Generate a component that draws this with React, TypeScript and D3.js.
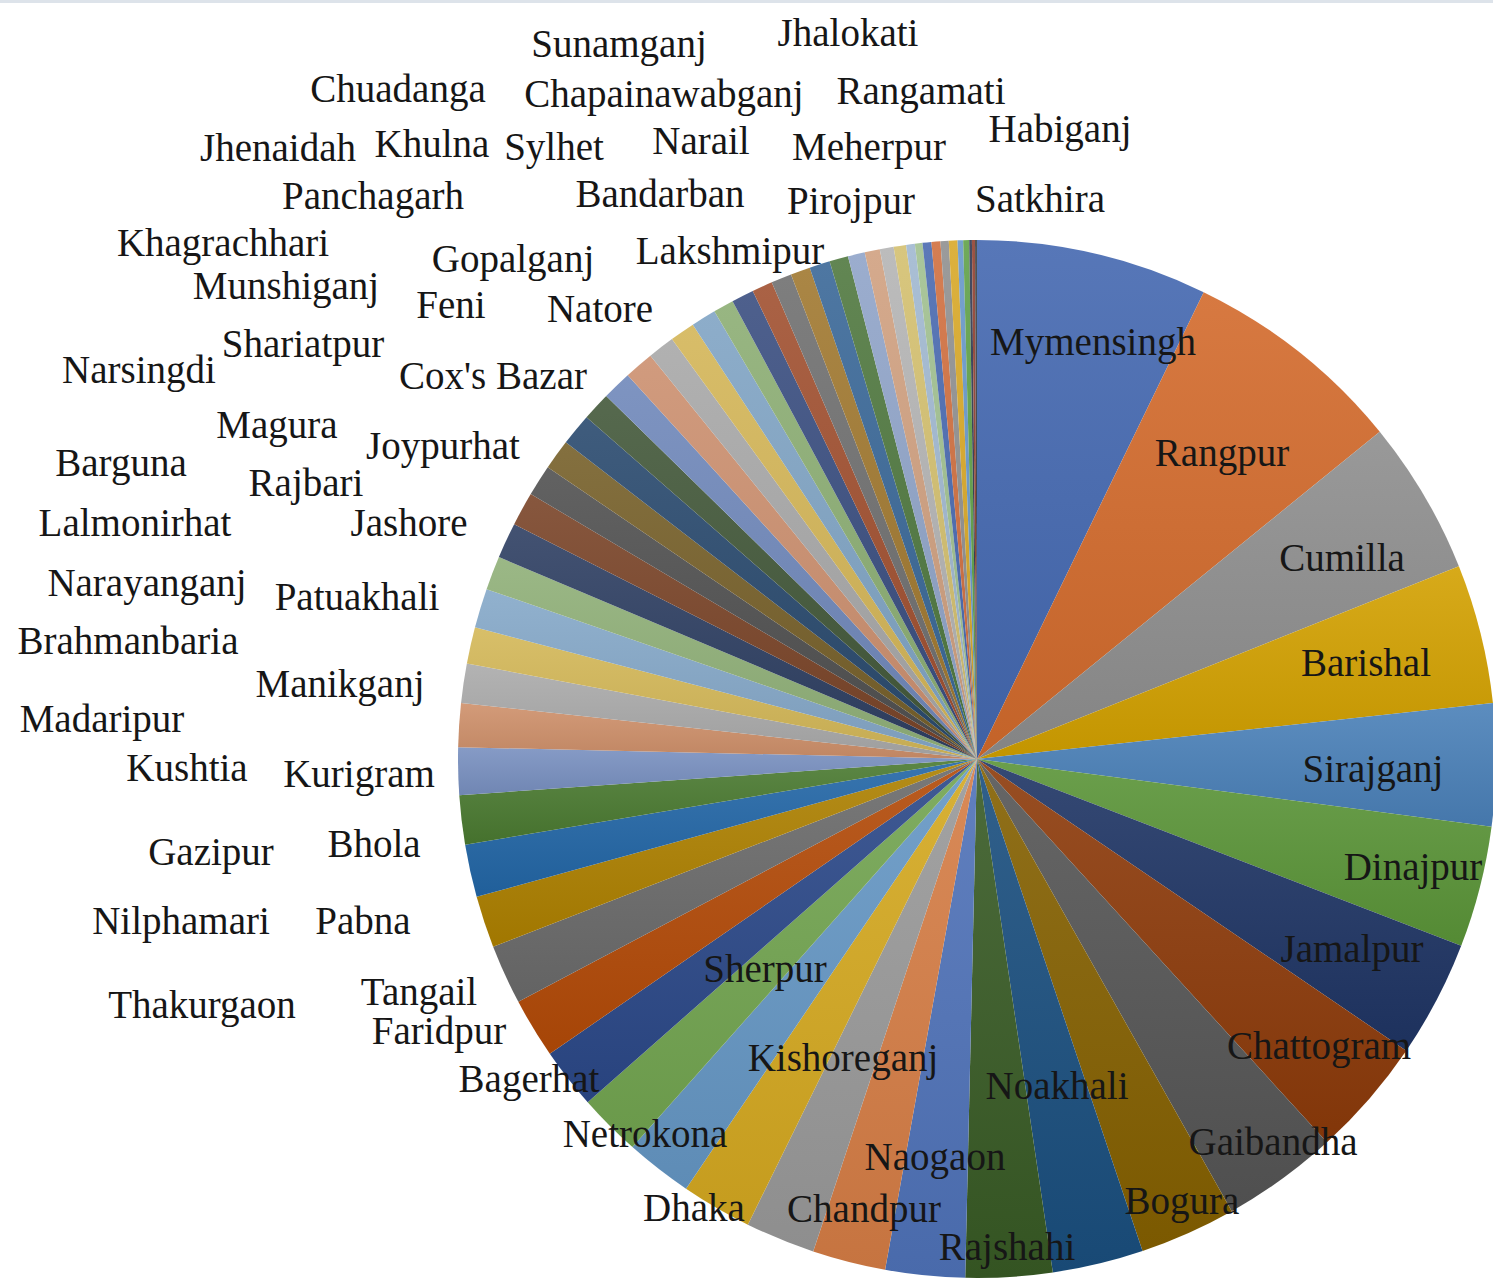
import React from 'react';
import * as d3 from 'd3';

const districts: string[] = [
  'Mymensingh', 'Rangpur', 'Cumilla', 'Barishal', 'Sirajganj', 'Dinajpur', 'Jamalpur', 'Chattogram',
  'Gaibandha', 'Bogura', 'Noakhali', 'Rajshahi', 'Naogaon', 'Chandpur', 'Kishoreganj', 'Dhaka',
  'Netrokona', 'Sherpur', 'Bagerhat', 'Faridpur', 'Tangail', 'Thakurgaon', 'Pabna', 'Nilphamari',
  'Bhola', 'Gazipur', 'Kurigram', 'Kushtia', 'Madaripur', 'Manikganj', 'Brahmanbaria', 'Narayanganj',
  'Patuakhali', 'Lalmonirhat', 'Barguna', 'Rajbari', 'Jashore', 'Narsingdi', 'Magura', 'Joypurhat',
  'Shariatpur', 'Munshiganj', 'Khagrachhari', "Cox's Bazar", 'Feni', 'Jhenaidah', 'Panchagarh', 'Gopalganj',
  'Khulna', 'Chuadanga', 'Natore', 'Sylhet', 'Bandarban', 'Sunamganj', 'Lakshmipur', 'Chapainawabganj',
  'Narail', 'Pirojpur', 'Meherpur', 'Jhalokati', 'Rangamati', 'Satkhira', 'Habiganj',
];

const shares: number[] = [
  25.9, 25.0, 17.3, 15.6, 13.7, 13.6, 13.1, 13.4,
  13.0, 10.8, 10.2, 9.7, 8.9, 8.2, 7.8, 7.9,
  7.5, 7.0, 6.8, 6.7, 6.7, 5.8, 5.9, 5.5,
  5.3, 4.9, 4.4, 4.1, 4.4, 3.8, 4.0, 3.8,
  3.5, 3.4, 3.6, 3.2, 3.3, 3.3, 3.0, 2.8,
  2.8, 2.3, 2.5, 2.3, 2.3, 2.2, 2.3, 2.1,
  1.9, 1.7, 1.55, 1.39, 0.98, 0.85, 0.99, 1.0,
  0.92, 0.97, 0.62, 0.67, 0.30, 0.34, 0.22,
];

const sliceColors: string[] = [
  '#4468b0', '#d26a2c', '#8e8e8e', '#d2a000', '#4a80b8', '#5a9438', '#1f3564', '#8c3a0a',
  '#555555', '#846000', '#1a4e7e', '#385a25', '#4f72b8', '#d57d45', '#999999', '#d4a820',
  '#6596c4', '#72a450', '#2b4888', '#b24a08', '#6a6a6a', '#ad8000', '#2266a6', '#4a7a30',
  '#7890c0', '#ce906a', '#aaaaaa', '#d4b858', '#85a8c8', '#90b078', '#2e3f62', '#7a4428',
  '#505050', '#76602a', '#2a4a6e', '#43583a', '#7088ba', '#cc9070', '#a8a8a8', '#d4b658',
  '#80a4c4', '#8cae74', '#3a4e80', '#a05030', '#707070', '#a07830', '#3a6898', '#507840',
  '#90a4c8', '#d0a080', '#b4b4b4', '#d4c070', '#a0b8d0', '#a0c090', '#4a6ab0', '#d07040',
  '#909090', '#d8a828', '#6898c8', '#60a048', '#303850', '#904030', '#404040',
];

// label centre positions (page pixels), same order as districts
const labelLayout: [number, number][] = [
  [1093, 341], [1222, 452], [1342, 557], [1366, 662], [1373, 768], [1413, 866], [1352, 948], [1319, 1045],
  [1273, 1141], [1182, 1200], [1057, 1085], [1007, 1246], [935, 1156], [864, 1208], [843, 1057], [694, 1207],
  [645, 1133], [765, 968], [529, 1078], [439, 1030], [419, 991], [202, 1004], [363, 920], [181, 920],
  [374, 843], [211, 851], [359, 773], [187, 767], [102, 718], [340, 683], [128, 640], [147, 582],
  [357, 596], [135, 522], [121, 462], [306, 482], [409, 522], [139, 369], [277, 424], [443, 445],
  [303, 343], [286, 285], [223, 242], [493, 375], [451, 304], [278, 147], [373, 195], [513, 258],
  [432, 143], [398, 88], [600, 308], [554, 146], [660, 193], [619, 43], [730, 250], [664, 93],
  [701, 140], [851, 200], [869, 146], [848, 32], [921, 90], [1040, 198], [1060, 128],
];

const W = 1493;
const H = 1281;
const CX = 977;
const CY = 759;
const R = 519;

export default function App() {
  const data = districts.map((name, i) => ({ name, value: shares[i], i }));
  const pie = d3
    .pie<{ name: string; value: number; i: number }>()
    .sort(null)
    .value((d) => d.value)
    .startAngle(0)
    .endAngle(2 * Math.PI);
  const arcs = pie(data);
  const arcGen = d3
    .arc<d3.PieArcDatum<{ name: string; value: number; i: number }>>()
    .innerRadius(0)
    .outerRadius(R);

  const light = (c: string) => d3.interpolateRgb(c, '#ffffff')(0.1);
  const dark = (c: string) => d3.interpolateRgb(c, '#000000')(0.07);

  return (
    <svg
      width={W}
      height={H}
      viewBox={`0 0 ${W} ${H}`}
      style={{ position: 'absolute', left: 0, top: 0, background: '#ffffff' }}
    >
      <defs>
        {arcs.map((a) => (
          <linearGradient key={a.data.name} id={`g${a.index}`} x1="0" y1="0" x2="0" y2="1">
            <stop offset="0" stopColor={light(sliceColors[a.index])} />
            <stop offset="1" stopColor={dark(sliceColors[a.index])} />
          </linearGradient>
        ))}
      </defs>
      <rect x={0} y={0} width={W} height={3} fill="#dde3ea" />
      <g transform={`translate(${CX},${CY})`}>
        {arcs.map((a) => (
          <path key={a.data.name} d={arcGen(a) || ''} fill={`url(#g${a.index})`} />
        ))}
      </g>
      <g
        fontFamily="'Liberation Serif', 'Times New Roman', serif"
        fontSize={39}
        fill="#161616"
        textAnchor="middle"
        dominantBaseline="central"
      >
        {districts.map((name, i) => (
          <text key={name} x={labelLayout[i][0]} y={labelLayout[i][1]}>
            {name}
          </text>
        ))}
      </g>
    </svg>
  );
}
